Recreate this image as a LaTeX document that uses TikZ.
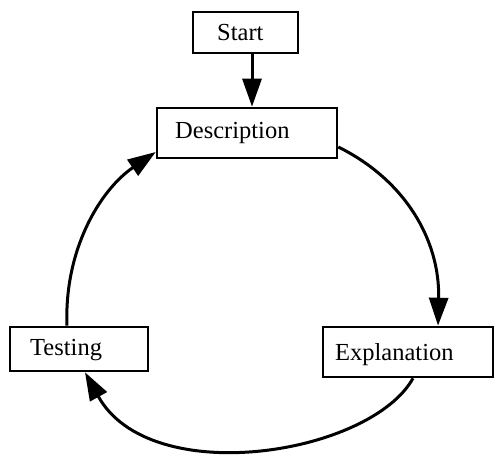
\documentclass[tikz,border=0pt]{standalone}
\usepackage{fontspec}
\setmainfont{Liberation Serif}
\usetikzlibrary{arrows.meta}
\begin{document}
\begin{tikzpicture}[x=1pt,y=-1pt,
  box/.style={draw=black, line width=2.6pt, rectangle, inner sep=0pt},
  lbl/.style={anchor=base west, inner sep=0pt, font=\fontsize{24.5}{28}\selectfont},
  flow/.style={draw=black, line width=3pt, -{Triangle[length=28pt,width=19pt]}}]
  \useasboundingbox[fill=white] (0,0) rectangle (496,456);

  % stage boxes
  \node[box, minimum width=105pt, minimum height=41pt] (start) at (245.5,32.5) {};
  \node[box, minimum width=180pt, minimum height=50pt] (desc)  at (247,133) {};
  \node[box, minimum width=138pt, minimum height=44pt] (test)  at (79,349) {};
  \node[box, minimum width=170pt, minimum height=50pt] (expl)  at (408,352) {};

  % stage names
  \node[lbl] (startText) at (217,40) {Start};
  \node[lbl] (descText)  at (175,138) {Description};
  \node[lbl] (testText)  at (30,355) {Testing};
  \node[lbl] (explText)  at (335,360) {Explanation};

  % connectors
  \draw[flow] ([xshift=6.5pt]start.south) -- ([xshift=5pt]desc.north);
  \draw[flow] ([yshift=-14pt]desc.east) .. controls (405,180) and (440,240) .. ([xshift=30pt]expl.north);
  \draw[flow] ([xshift=5pt]expl.south) .. controls (370,455) and (150,490) .. ([xshift=6pt]test.south);
  \draw[flow] ([xshift=-12pt]test.north) .. controls (64,250) and (100,190) .. ([yshift=-19pt]desc.west);
\end{tikzpicture}
\end{document}
